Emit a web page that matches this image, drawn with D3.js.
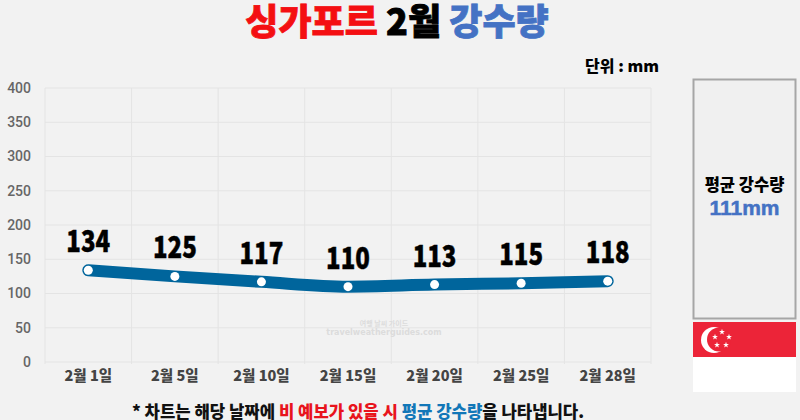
<!DOCTYPE html>
<html>
<head>
<meta charset="utf-8">
<script src="https://cdn.jsdelivr.net/npm/d3@7"></script>
<style>
  html, body { margin: 0; padding: 0; background: #f2f2f2; }
  svg { display: block; font-family: "Noto Sans CJK KR", "Noto Sans", sans-serif; }
</style>
</head>
<body>
<svg width="800" height="420"></svg>
<script>
var days = ["2월 1일", "2월 5일", "2월 10일", "2월 15일", "2월 20일", "2월 25일", "2월 28일"];
var rainfall = [134, 125, 117, 110, 113, 115, 118];
var yTicks = [0, 50, 100, 150, 200, 250, 300, 350, 400];
var titleParts = [["싱가포르 ", "#f40f12"], ["2월 ", "#000"], ["강수량", "#4472c4"]];
var noteParts = [["* 차트는 해당 날짜에 ", "#111"], ["비 예보가 있을 시 ", "#e8141c"], ["평균 강수량", "#1277b8"], ["을 나타냅니다.", "#111"]];
var average = "111mm";

var svg = d3.select("svg");

var x = d3.scaleBand().domain(days).range([45, 651]);
var y = d3.scaleLinear().domain([0, 400]).range([362, 88]);

// grid
svg.append("g").selectAll("line")
    .data(yTicks)
    .enter().append("line")
    .attr("x1", 45).attr("x2", 651)
    .attr("y1", function(d) { return y(d); })
    .attr("y2", function(d) { return y(d); })
    .attr("stroke", "#e4e4e4");

svg.append("g").selectAll("line")
    .data(days.concat(["end"]))
    .enter().append("line")
    .attr("x1", function(d, i) { return 45 + i * x.step(); })
    .attr("x2", function(d, i) { return 45 + i * x.step(); })
    .attr("y1", 88).attr("y2", 364)
    .attr("stroke", "#e4e4e4");

// axes
var yAxis = d3.axisLeft(y).tickValues(yTicks).tickSize(0).tickPadding(0);
var gy = svg.append("g").attr("transform", "translate(31,0)").call(yAxis);
gy.select(".domain").remove();
gy.selectAll("text")
    .attr("font-size", 14).attr("font-weight", 500)
    .attr("font-family", "Roboto, sans-serif")
    .attr("fill", "#666");

var xAxis = d3.axisBottom(x).tickSize(0).tickPadding(6);
var gx = svg.append("g").attr("transform", "translate(0,365)").call(xAxis);
gx.select(".domain").remove();
gx.selectAll("text")
    .attr("font-size", 14.5).attr("font-weight", 900)
    .attr("font-family", "'Noto Sans CJK KR'")
    .attr("fill", "#444");

// watermark, sits under the line
var wm = svg.append("g").attr("text-anchor", "middle").attr("fill", "#dcdcdc");
wm.append("text").attr("x", 384).attr("y", 326).attr("font-size", 7).attr("font-weight", 700).text("여행 날씨 가이드");
wm.append("text").attr("x", 384).attr("y", 335).attr("font-size", 8).attr("font-weight", 700)
    .attr("font-family", "'DejaVu Sans'").text("travelweatherguides.com");

// line
var line = d3.line()
    .x(function(d, i) { return x(days[i]) + x.bandwidth() / 2; })
    .y(function(d) { return y(d); })
    .curve(d3.curveMonotoneX);

svg.append("path")
    .datum(rainfall)
    .attr("d", line)
    .attr("fill", "none")
    .attr("stroke", "#00659c")
    .attr("stroke-width", 12)
    .attr("stroke-linecap", "round")
    .attr("stroke-linejoin", "round");

svg.append("g").selectAll("circle")
    .data(rainfall)
    .enter().append("circle")
    .attr("cx", function(d, i) { return x(days[i]) + x.bandwidth() / 2; })
    .attr("cy", function(d) { return y(d); })
    .attr("r", 4.5)
    .attr("fill", "#fff");

// value labels are squeezed sideways like the original
svg.append("g").selectAll("text")
    .data(rainfall)
    .enter().append("text")
    .attr("transform", function(d, i) {
        return "translate(" + (x(days[i]) + x.bandwidth() / 2) + "," + (y(d) - 18) + ") scale(0.8,1)";
    })
    .attr("text-anchor", "middle")
    .attr("font-size", 30).attr("font-weight", 900)
    .attr("font-family", "'Noto Sans CJK KR'")
    .attr("fill", "#000")
    .attr("stroke", "#000").attr("stroke-width", 0.5)
    .text(function(d) { return d; });

// title
var title = svg.append("text")
    .attr("x", 397).attr("y", 35)
    .attr("text-anchor", "middle")
    .attr("font-size", 36).attr("font-weight", 900)
    .attr("stroke-width", 0.8);
title.selectAll("tspan").data(titleParts).enter().append("tspan")
    .attr("fill", function(d) { return d[1]; })
    .attr("stroke", function(d) { return d[1]; })
    .attr("xml:space", "preserve")
    .text(function(d) { return d[0]; });

svg.append("text")
    .attr("x", 659).attr("y", 72)
    .attr("text-anchor", "end")
    .attr("font-size", 16).attr("font-weight", 900)
    .attr("fill", "#000")
    .text("단위 : mm");

// average box
svg.append("rect")
    .attr("x", 693.5).attr("y", 79.5)
    .attr("width", 102).attr("height", 239)
    .attr("fill", "#f0f0f0")
    .attr("stroke", "#a6a6a6").attr("stroke-width", 2);
svg.append("text")
    .attr("x", 744.5).attr("y", 191)
    .attr("text-anchor", "middle")
    .attr("font-size", 16.5).attr("font-weight", 900)
    .attr("fill", "#000")
    .text("평균 강수량");
svg.append("text")
    .attr("x", 744.5).attr("y", 215)
    .attr("text-anchor", "middle")
    .attr("font-size", 21).attr("font-weight", 700)
    .attr("font-family", "'Liberation Sans'")
    .attr("fill", "#4472c4")
    .attr("stroke", "#4472c4").attr("stroke-width", 0.5)
    .text(average);

// flag
var flag = svg.append("g");
flag.append("rect").attr("x", 693).attr("y", 322).attr("width", 103).attr("height", 35).attr("fill", "#ec2438");
flag.append("rect").attr("x", 693).attr("y", 357).attr("width", 103).attr("height", 35).attr("fill", "#fff");
flag.append("circle").attr("cx", 714).attr("cy", 340).attr("r", 13).attr("fill", "#fff");
flag.append("circle").attr("cx", 719).attr("cy", 339.5).attr("r", 12).attr("fill", "#ec2438");
var star = d3.symbol().type(d3.symbolStar).size(11);
[[722, 332], [729, 337], [726, 345], [717, 345], [715, 337]].forEach(function(p) {
    flag.append("path").attr("d", star).attr("fill", "#fff")
        .attr("transform", "translate(" + p[0] + "," + p[1] + ")");
});

// note
var note = svg.append("text")
    .attr("x", 358).attr("y", 418)
    .attr("text-anchor", "middle")
    .attr("font-size", 16.7).attr("font-weight", 900);
note.selectAll("tspan").data(noteParts).enter().append("tspan")
    .attr("fill", function(d) { return d[1]; })
    .attr("xml:space", "preserve")
    .text(function(d) { return d[0]; });
</script>
</body>
</html>
